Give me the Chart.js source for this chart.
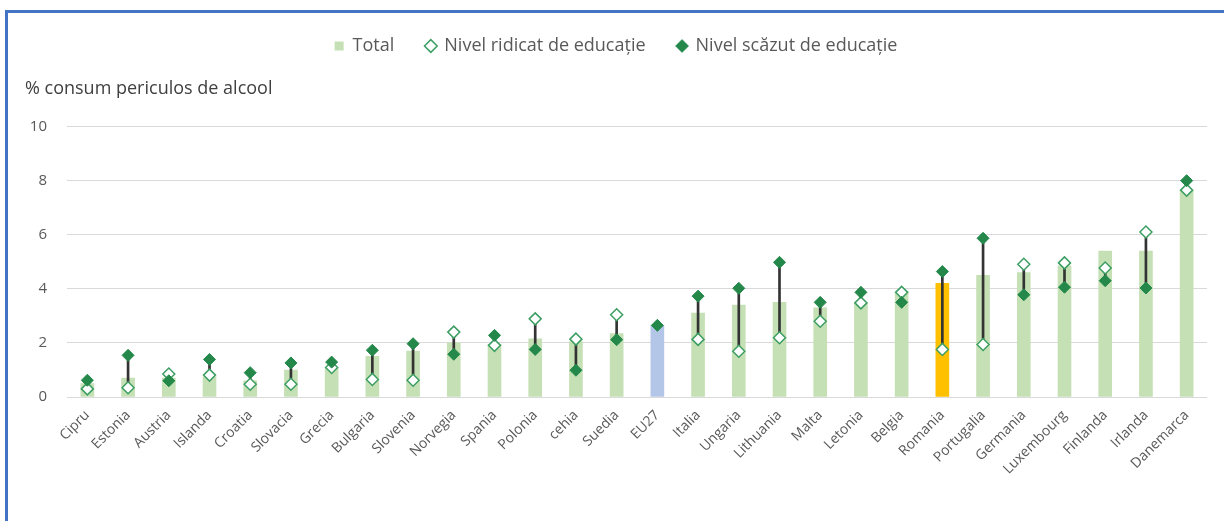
<!DOCTYPE html>
<html>
<head>
<meta charset="utf-8">
<script src="https://cdn.jsdelivr.net/npm/chart.js@4.4.1/dist/chart.umd.min.js"></script>
<style>
  body { margin: 0; background: #fff; }
  #wrap { position: relative; width: 1224px; height: 521px; }
  #frame {
    position: absolute; left: 5px; top: 10px; right: 0; bottom: 0;
    border-top: 3px solid #4472c4; border-left: 3px solid #4472c4;
    pointer-events: none;
  }
</style>
</head>
<body>
<div id="wrap">
  <canvas id="graphCanvas" width="1224" height="521"></canvas>
  <div id="frame"></div>
</div>
<script>
// data
var countries = ['Cipru', 'Estonia', 'Austria', 'Islanda', 'Croatia', 'Slovacia', 'Grecia', 'Bulgaria', 'Slovenia',
  'Norvegia', 'Spania', 'Polonia', 'cehia', 'Suedia', 'EU27', 'Italia', 'Ungaria', 'Lithuania', 'Malta', 'Letonia',
  'Belgia', 'Romania', 'Portugalia', 'Germania', 'Luxembourg', 'Finlanda', 'Irlanda', 'Danemarca'];

var total = [0.5, 0.7, 0.7, 0.75, 0.6, 1.0, 1.1, 1.5, 1.7, 2.0, 1.95, 2.15, 2.05, 2.35, 2.65, 3.1, 3.4, 3.5, 3.3,
  3.5, 3.9, 4.2, 4.5, 4.6, 4.85, 5.4, 5.4, 7.65];

var nivelRidicat = [0.3, 0.34, 0.85, 0.81, 0.47, 0.47, 1.09, 0.65, 0.62, 2.4, 1.91, 2.89, 2.14, 3.04, null, 2.13,
  1.69, 2.19, 2.8, 3.48, 3.87, 1.76, 1.94, 4.91, 4.96, 4.77, 6.1, 7.65];

var nivelScazut = [0.62, 1.54, 0.6, 1.39, 0.9, 1.26, 1.29, 1.73, 1.97, 1.58, 2.28, 1.76, 0.99, 2.12, 2.65, 3.73,
  4.02, 4.98, 3.5, 3.87, 3.5, 4.64, 5.87, 3.78, 4.06, 4.3, 4.03, 8.0];

var yTicks = [0, 2, 4, 6, 8, 10];

// bar colours: EU27 blue, Romania yellow
var barColors = [];
for (var i in countries) {
  if (countries[i] == 'EU27') barColors.push('#b4c6e7');
  else if (countries[i] == 'Romania') barColors.push('#ffc000');
  else barColors.push('#c5e0b4');
}

// thin floating bars joining the two education levels
var gaps = [];
for (var i in countries) {
  if (nivelRidicat[i] == null || nivelScazut[i] == null) gaps.push(null);
  else gaps.push([Math.min(nivelRidicat[i], nivelScazut[i]), Math.max(nivelRidicat[i], nivelScazut[i])]);
}

Chart.defaults.font.family = "'Open Sans', sans-serif";
Chart.defaults.color = '#595959';

var ctx = document.getElementById('graphCanvas');

var data = {
  labels: countries,
  datasets: [
    {
      type: 'bar',
      label: 'Total',
      data: total,
      backgroundColor: barColors,
      barThickness: 13,
      grouped: false,
      pointStyle: 'rect',
      order: 3
    },
    {
      type: 'line',
      label: 'Nivel ridicat de educație',
      data: nivelRidicat,
      showLine: false,
      pointStyle: 'rectRot',
      pointRadius: 6,
      pointBackgroundColor: '#ffffff',
      pointBorderColor: '#3c9e62',
      pointBorderWidth: 1.5,
      backgroundColor: '#ffffff',
      borderColor: '#3c9e62',
      order: 1
    },
    {
      type: 'line',
      label: 'Nivel scăzut de educație',
      data: nivelScazut,
      showLine: false,
      pointStyle: 'rectRot',
      pointRadius: 6,
      pointBackgroundColor: '#23884a',
      pointBorderColor: '#23884a',
      pointBorderWidth: 1,
      backgroundColor: '#23884a',
      borderColor: '#23884a',
      order: 0
    },
    {
      type: 'bar',
      label: 'gap',
      data: gaps,
      backgroundColor: '#333333',
      barThickness: 2,
      grouped: false,
      order: 2
    }
  ]
};

var options = {
  responsive: false,
  animation: false,
  layout: {
    padding: { left: 25, right: 17, top: 5, bottom: 10 }
  },
  plugins: {
    legend: {
      display: true,
      position: 'top',
      labels: {
        usePointStyle: true,
        boxWidth: 9,
        boxHeight: 9,
        padding: 32,
        font: { size: 18 },
        color: '#595959',
        filter: function(item) { return item.text != 'gap'; },
        sort: function(a, b) { return a.datasetIndex - b.datasetIndex; }
      }
    },
    title: {
      display: true,
      text: '% consum periculos de alcool',
      align: 'start',
      weight: 500,
      color: '#404040',
      font: { size: 18, weight: 'normal' },
      padding: { top: 13, bottom: 27 }
    },
    tooltip: { enabled: false }
  },
  scales: {
    x: {
      grid: { display: false },
      border: { display: false },
      ticks: {
        minRotation: 45,
        maxRotation: 45,
        padding: 2,
        font: { size: 14 },
        color: '#595959'
      },
      afterFit: function(scale) { scale.height = 114; }
    },
    y: {
      min: 0,
      max: 10,
      afterBuildTicks: function(scale) {
        scale.ticks = yTicks.map(function(v) { return { value: v }; });
      },
      grid: { color: '#d9d9d9', drawTicks: false },
      border: { display: false },
      ticks: {
        padding: 20,
        font: { size: 15 },
        color: '#595959'
      },
      afterFit: function(scale) { scale.width = 42; }
    }
  }
};

var chart = new Chart(ctx, {
  data: data,
  options: options
});
</script>
</body>
</html>
